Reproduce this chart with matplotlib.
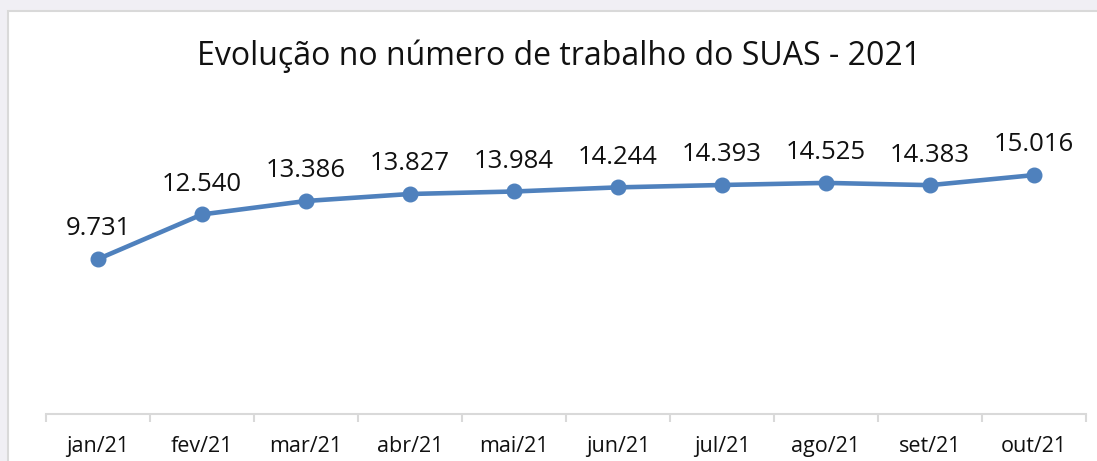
import matplotlib.pyplot as plt
from matplotlib.patches import Rectangle

W, H = 1097, 461

months = ['jan/21', 'fev/21', 'mar/21', 'abr/21', 'mai/21',
          'jun/21', 'jul/21', 'ago/21', 'set/21', 'out/21']
workers = [9731, 12540, 13386, 13827, 13984,
           14244, 14393, 14525, 14383, 15016]

plt.rcParams['font.family'] = ['Open Sans', 'DejaVu Sans']

fig = plt.figure(figsize=(W / 100, H / 100), dpi=100)
fig.patch.set_facecolor('#f0eff4')

# white chart area (cut off at right and bottom like the screenshot)
fig.patches.append(Rectangle((8 / W, -0.2), 2, (H - 11) / H + 0.2,
                             transform=fig.transFigure, facecolor='white',
                             edgecolor='#d9d9d9', linewidth=1.5, zorder=-1))

ax = fig.add_axes([46 / W, 1 - 413.7 / H, (1086 - 46) / W, (413.7 - 95.9) / H])
ax.set_facecolor('none')

x = list(range(len(months)))
ax.plot(x, workers, color='#4f81bd', linewidth=3.3, marker='o',
        markersize=10.5, solid_capstyle='round')

for xi, v in zip(x, workers):
    ax.annotate(f'{v:,}'.replace(',', '.'), (xi, v), xytext=(0, 17),
                textcoords='offset points', ha='center', va='baseline',
                fontsize=18.5, color='#111111')

ax.set_xlim(-0.5, len(months) - 0.5)
ax.set_ylim(0, 20000)

for s in ['left', 'right', 'top']:
    ax.spines[s].set_visible(False)
ax.spines['bottom'].set_color('#d9d9d9')
ax.spines['bottom'].set_linewidth(1.5)
ax.set_yticks([])

ax.set_xticks(x)
ax.set_xticklabels(months, fontsize=15.5, color='#111111')
ax.tick_params(axis='x', which='major', length=0, pad=16)
ax.set_xticks([i - 0.5 for i in range(len(months) + 1)], minor=True)
ax.tick_params(axis='x', which='minor', length=6, width=1.5, color='#d9d9d9')

fig.text(559 / W, 1 - 65 / H, 'Evolução no número de trabalho do SUAS - 2021',
         ha='center', va='baseline', fontsize=23, color='#111111')

fig.savefig('out.png', dpi=100, facecolor=fig.get_facecolor())
